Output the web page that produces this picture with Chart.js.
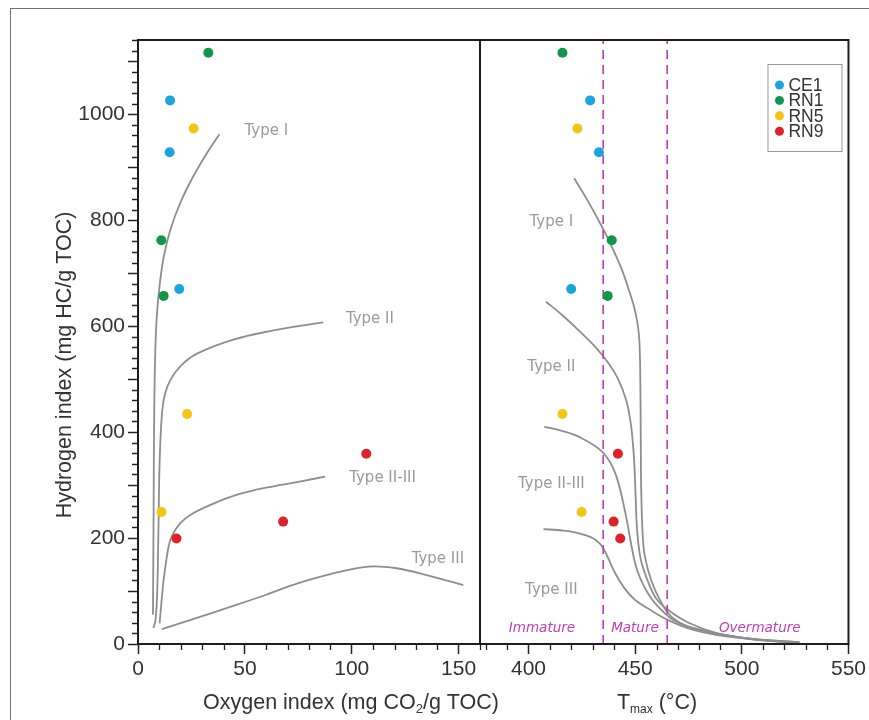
<!DOCTYPE html>
<html>
<head>
<meta charset="utf-8">
<script src="https://cdn.jsdelivr.net/npm/chart.js@4.4.1/dist/chart.umd.min.js"></script>
<style>
html, body { margin: 0; padding: 0; background: #fff; }
#wrap { position: relative; width: 869px; height: 720px; overflow: hidden; background: #fff; }
#wrap canvas { position: absolute; left: 0; top: 0; }
#edge { position: absolute; left: 10px; top: 8px; right: 0; bottom: 0; border-left: 1px solid #707070; border-top: 1px solid #707070; }
</style>
</head>
<body>
<div id="wrap">
    <div id="edge"></div>
    <canvas id="oiChart" width="869" height="720"></canvas>
    <canvas id="tmaxChart" width="869" height="720"></canvas>
</div>
<script>
// Samples (same order in every array below)
const samples = ['CE1', 'RN1', 'RN5', 'RN9'];
const oxygenIndex = [
    [15.0, 14.8, 19.3],
    [32.9, 10.9, 12.0],
    [26.0, 23.0, 11.0],
    [106.8, 67.9, 18.0]
];
const hydrogenIndex = [
    [1026, 928, 670],
    [1116, 762, 657],
    [973, 434, 249],
    [359, 231, 199]
];
const tmax = [
    [428.9, 433.0, 420.0],
    [415.9, 439.0, 437.1],
    [422.9, 415.9, 424.9],
    [441.9, 439.9, 443.0]
];

// Kerogen type curves, [OI, HI]
const kerogenTypes = ['Type I', 'Type II', 'Type II-III', 'Type III'];
const typeI_OI = [[38.1, 962], [32.0, 925], [25.5, 880], [19.5, 830], [15.0, 780], [12.0, 730], [10.2, 680], [9.0, 630], [8.3, 580], [7.8, 500], [7.5, 400], [7.3, 250], [7.0, 55]];
const typeII_OI = [[86.7, 607], [75, 600], [63.4, 592], [45, 575], [27.6, 548], [20, 525], [15.1, 498], [12.5, 470], [11.2, 435], [10.1, 341], [9.5, 200], [9.0, 100], [8.2, 45], [7.2, 30]];
const typeIIIII_OI = [[87.5, 316], [75, 306], [58.7, 294], [45, 280], [35.3, 265], [25, 245], [19.8, 228], [16, 205], [14.3, 184], [12, 121], [11, 80], [10.1, 39]];
const typeIII_OI = [[11.2, 28], [25, 46], [43.1, 70], [60, 93], [74.3, 114], [90, 132], [107.8, 146], [121, 143], [135, 130], [152.2, 111]];

// Kerogen type curves, [Tmax, HI]
const typeI_T = [[421.4, 879], [428, 835], [434.5, 787], [439, 750], [443.8, 706], [447.3, 665], [449.5, 636], [451.1, 605], [452.0, 570], [452.4, 500], [452.6, 400], [452.9, 278], [453.9, 184], [456, 140], [459.3, 102], [465.5, 58], [472, 38], [481, 26], [500, 12], [527, 3]];
const typeII_T = [[408.2, 646], [416, 620], [423.5, 592], [431.5, 560], [437.5, 530], [442, 500], [445.8, 460], [447.8, 420], [448.9, 380], [449.6, 340], [450.2, 280], [450.9, 215], [452.6, 160], [456.3, 115], [460, 85], [465.5, 64], [475, 40], [488.7, 20], [505, 9], [527, 2]];
const typeIIIII_T = [[407.4, 410], [416, 402], [423.7, 391], [434.5, 363], [440.7, 322], [445.4, 247], [450, 152], [454, 110], [459.3, 77], [468, 45], [481, 26], [500, 12], [527, 1]];
const typeIII_T = [[407, 217], [416, 214], [423.7, 209], [430, 200], [434.5, 184], [440.7, 133], [445, 105], [450, 83], [458, 62], [465.5, 45], [476, 28], [488.7, 17], [505, 9], [527, 4]];

// Maturity windows (Tmax, °C)
const maturityLimits = [435, 465];
const maturityZones = ['Immature', 'Mature', 'Overmature'];

// Tick labels
const hiTicks = [0, 200, 400, 600, 800, 1000];
const oiTicks = [0, 50, 100, 150];
const tmaxTicks = [400, 450, 500, 550];

// Styling
const sampleColors = ['#1ba4de', '#11974b', '#f5c419', '#de2228'];
const curveColor = '#8e8e8e';
const zoneColor = '#c23db6';
const axisFont = 'Liberation Sans, Arial, Helvetica, sans-serif';
const typeFont = 'DejaVu Sans, Verdana, sans-serif';

// where the text labels sit, in data units
const oiTypeSpots = [[60, 968], [108.5, 613], [114.4, 314], [140.3, 160]];
const tTypeSpots = [[410.7, 796], [410.7, 523], [410.7, 302], [410.7, 102]];
const zoneSpots = [406.3, 449.9, 508.4];

Chart.defaults.font.family = axisFont;
Chart.defaults.color = '#333';

function toPoints(pairs) {
    return pairs.map(([x, y]) => ({ x, y }));
}

function curveDataset(pairs) {
    return {
        data: toPoints(pairs),
        showLine: true,
        pointRadius: 0,
        borderColor: curveColor,
        borderWidth: 1.8,
        tension: 0.35,
        order: 2
    };
}

function sampleDatasets(xValues) {
    return samples.map((name, i) => ({
        label: name,
        data: xValues[i].map((x, j) => ({ x, y: hydrogenIndex[i][j] })),
        pointRadius: 5,
        pointBorderWidth: 0,
        backgroundColor: sampleColors[i],
        borderColor: sampleColors[i],
        order: 0
    }));
}

function drawRich(ctx, parts, cx, cy) {
    let total = 0;
    parts.forEach(p => {
        ctx.font = `${p.size}px ${axisFont}`;
        p.w = ctx.measureText(p.t).width;
        total += p.w;
    });
    let x = cx - total / 2;
    ctx.textAlign = 'left';
    ctx.textBaseline = 'middle';
    parts.forEach(p => {
        ctx.font = `${p.size}px ${axisFont}`;
        ctx.fillText(p.t, x, cy + (p.dy || 0));
        x += p.w;
    });
}

// Frame, minor ticks, titles and labels
const decorPlugin = {
    id: 'decor',
    afterDatasetsDraw(chart, args, opts) {
        const { ctx, chartArea: a, scales } = chart;
        const xs = scales.x;
        ctx.save();

        // minor ticks
        ctx.strokeStyle = '#222';
        ctx.lineWidth = 1.3;
        ctx.beginPath();
        for (let v = Math.ceil(xs.min / 10) * 10; v <= xs.max; v += 10) {
            if (v % 50 === 0) continue;
            const px = Math.round(xs.getPixelForValue(v)) + 0.5;
            ctx.moveTo(px, a.bottom);
            ctx.lineTo(px, a.bottom + 6);
        }
        if (opts.yMinor) {
            const ys = scales.y;
            for (let v = 20; v <= ys.max; v += 20) {
                if (v % 100 === 0) continue;
                const py = Math.round(ys.getPixelForValue(v)) + 0.5;
                ctx.moveTo(a.left - 6, py);
                ctx.lineTo(a.left, py);
            }
        }
        ctx.stroke();

        // frame
        ctx.strokeStyle = '#1c1c1c';
        ctx.lineWidth = 2;
        ctx.strokeRect(a.left, a.top, a.right - a.left, a.bottom - a.top);

        // kerogen type labels
        ctx.fillStyle = '#9a9a9a';
        ctx.font = `15px ${typeFont}`;
        ctx.textAlign = 'center';
        ctx.textBaseline = 'middle';
        opts.typeSpots.forEach(([x, y], i) => {
            ctx.fillText(kerogenTypes[i], xs.getPixelForValue(x), scales.y.getPixelForValue(y));
        });

        // maturity zone labels
        if (opts.zones) {
            ctx.fillStyle = zoneColor;
            ctx.font = `italic 13.5px ${typeFont}`;
            zoneSpots.forEach((x, i) => {
                ctx.fillText(maturityZones[i], xs.getPixelForValue(x), scales.y.getPixelForValue(30));
            });
        }

        // axis titles
        ctx.fillStyle = '#333';
        drawRich(ctx, opts.xTitle, a.left + opts.xTitleOffset, a.bottom + 59);
        if (opts.yTitle) {
            ctx.save();
            ctx.translate(65, 365);
            ctx.rotate(-Math.PI / 2);
            drawRich(ctx, [{ t: opts.yTitle, size: 21.5 }], 0, 0);
            ctx.restore();
        }

        // legend
        if (opts.legend) {
            const bx = a.right - 81, by = a.top + 24;
            ctx.fillStyle = '#fff';
            ctx.fillRect(bx, by, 74, 87);
            ctx.strokeStyle = '#9a9a9a';
            ctx.lineWidth = 1;
            ctx.strokeRect(bx + 0.5, by + 0.5, 74, 87);
            ctx.font = `17.5px ${axisFont}`;
            ctx.textAlign = 'left';
            ctx.textBaseline = 'middle';
            samples.forEach((name, i) => {
                const ry = by + 21 + i * 15.4;
                ctx.fillStyle = sampleColors[i];
                ctx.beginPath();
                ctx.arc(bx + 12, ry, 4.5, 0, Math.PI * 2);
                ctx.fill();
                ctx.fillStyle = '#333';
                ctx.fillText(name, bx + 21, ry + 1);
            });
        }
        ctx.restore();
    }
};

function axisTicks(labels) {
    return {
        color: '#333',
        font: { size: 21 },
        padding: 3,
        maxRotation: 0,
        autoSkip: false,
        includeBounds: false,
        callback: v => labels.includes(v) ? v : ''
    };
}

const tickGrid = {
    drawOnChartArea: false,
    drawTicks: true,
    tickLength: 10,
    tickColor: '#222',
    tickWidth: 1.5
};

const commonOptions = {
    responsive: false,
    animation: false,
    devicePixelRatio: 1,
    events: []
};

// Oxygen index chart
new Chart(document.getElementById('oiChart'), {
    type: 'scatter',
    data: {
        datasets: [
            ...sampleDatasets(oxygenIndex),
            curveDataset(typeI_OI),
            curveDataset(typeII_OI),
            curveDataset(typeIIIII_OI),
            curveDataset(typeIII_OI)
        ]
    },
    options: {
        ...commonOptions,
        layout: { autoPadding: false, padding: { left: 0, right: 389, top: 40, bottom: 0 } },
        plugins: {
            legend: { display: false },
            tooltip: { enabled: false },
            decor: {
                yMinor: true,
                typeSpots: oiTypeSpots,
                xTitleOffset: 213,
                xTitle: [
                    { t: 'Oxygen index (mg CO', size: 21.5 },
                    { t: '2', size: 13, dy: 6 },
                    { t: '/g TOC)', size: 21.5 }
                ],
                yTitle: 'Hydrogen index (mg HC/g TOC)'
            }
        },
        scales: {
            x: {
                type: 'linear', min: 0, max: 160,
                ticks: { ...axisTicks(oiTicks), stepSize: 50 },
                grid: tickGrid,
                border: { display: false },
                afterFit: s => { s.height = 76; }
            },
            y: {
                type: 'linear', min: 0, max: 1140,
                ticks: { ...axisTicks(hiTicks), stepSize: 100 },
                grid: tickGrid,
                border: { display: false },
                afterFit: s => { s.width = 138; }
            }
        }
    },
    plugins: [decorPlugin]
});

// Tmax chart
new Chart(document.getElementById('tmaxChart'), {
    type: 'scatter',
    data: {
        datasets: [
            ...sampleDatasets(tmax),
            ...maturityLimits.map(t => ({
                data: [{ x: t, y: 0 }, { x: t, y: 1140 }],
                showLine: true,
                pointRadius: 0,
                borderColor: zoneColor,
                borderWidth: 1.6,
                borderDash: [9, 6],
                order: 1
            })),
            curveDataset(typeI_T),
            curveDataset(typeII_T),
            curveDataset(typeIIIII_T),
            curveDataset(typeIII_T)
        ]
    },
    options: {
        ...commonOptions,
        layout: { autoPadding: false, padding: { left: 480, right: 16, top: 40, bottom: 0 } },
        plugins: {
            legend: { display: false },
            tooltip: { enabled: false },
            decor: {
                yMinor: false,
                typeSpots: tTypeSpots,
                zones: true,
                legend: true,
                xTitleOffset: 177,
                xTitle: [
                    { t: 'T', size: 21.5 },
                    { t: 'max', size: 12, dy: 7 },
                    { t: ' (°C)', size: 21.5 }
                ]
            }
        },
        scales: {
            x: {
                type: 'linear', min: 377.25, max: 550,
                ticks: { ...axisTicks(tmaxTicks), stepSize: 50 },
                grid: tickGrid,
                border: { display: false },
                afterFit: s => { s.height = 76; }
            },
            y: {
                type: 'linear', min: 0, max: 1140,
                display: false
            }
        }
    },
    plugins: [decorPlugin]
});
</script>
</body>
</html>
